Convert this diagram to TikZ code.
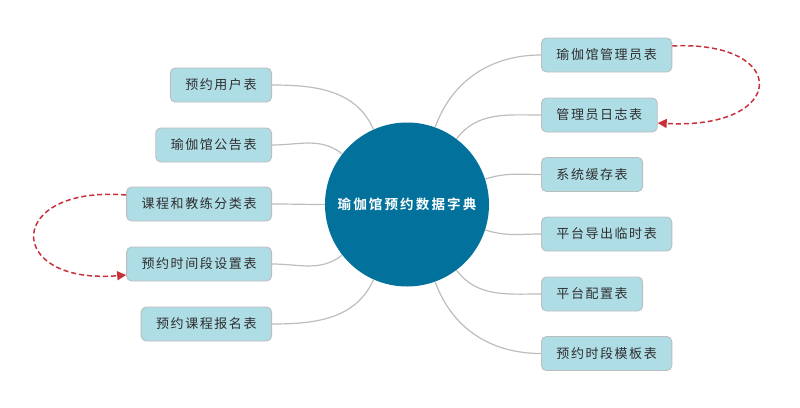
\documentclass[tikz,border=0pt]{standalone}
\usepackage{fontspec}
\usepackage{tikz}
\usetikzlibrary{arrows.meta,positioning}
\newfontfamily\tblfont[LetterSpace=12]{Noto Sans CJK SC}
\newfontfamily\hubfont[LetterSpace=16,BoldFont={Noto Sans CJK SC Bold}]{Noto Sans CJK SC}
\definecolor{yogablue}{HTML}{02729C}
\definecolor{yogacyan}{HTML}{AEDDE6}
\definecolor{yogagray}{HTML}{BDBDBD}
\definecolor{yogared}{HTML}{C8303A}
\definecolor{yogatext}{HTML}{2E2E2E}

\begin{document}
\begin{tikzpicture}[
  x=1pt, y=-1pt,
  hub/.style={circle, fill=yogablue, minimum size=164pt, inner sep=0pt, text=white, font=\hubfont\fontsize{13.5}{15}\selectfont\bfseries},
  tbl/.style={draw=yogagray, line width=0.9pt, rounded corners=5pt, fill=yogacyan, text=yogatext, minimum height=34pt, inner xsep=15pt, inner ysep=0pt, font=\tblfont\fontsize{13}{15}\selectfont},
  branch/.style={draw=yogagray, line width=1.2pt},
  link/.style={draw=yogared, line width=1.5pt, dash pattern=on 5pt off 3pt, -{Triangle[length=9pt,width=9pt]}}
]
\useasboundingbox (0,0) rectangle (800,407);
\node[hub] (dict) at (407,204.5) {瑜伽馆预约数据字典};
% left side
\node[tbl, anchor=east] (user) at (272,85) {预约用户表};
\node[tbl, anchor=east] (notice) at (272,145) {瑜伽馆公告表};
\node[tbl, anchor=east] (coach) at (272,204) {课程和教练分类表};
\node[tbl, anchor=east] (slot) at (272,264) {预约时间段设置表};
\node[tbl, anchor=east] (signup) at (272,324) {预约课程报名表};
% right side
\node[tbl, anchor=west] (admin) at (541,55) {瑜伽馆管理员表};
\node[tbl, anchor=west] (adminlog) at (541,115) {管理员日志表};
\node[tbl, anchor=west] (cache) at (541,174.5) {系统缓存表};
\node[tbl, anchor=west] (export) at (541,234) {平台导出临时表};
\node[tbl, anchor=west] (config) at (541,294) {平台配置表};
\node[tbl, anchor=west] (template) at (541,353.5) {预约时段模板表};
% branches
\draw[branch] (dict) to[out=114,in=0] (user);
\draw[branch] (dict) to[out=142,in=0] (notice);
\draw[branch] (dict) to[out=180,in=0] (coach);
\draw[branch] (dict) to[out=218,in=0] (slot);
\draw[branch] (dict) to[out=246,in=0] (signup);
\draw[branch] (dict) to[out=70,in=180] (admin);
\draw[branch] (dict) to[out=53,in=180] (adminlog);
\draw[branch] (dict) to[out=18,in=180] (cache);
\draw[branch] (dict) to[out=-18,in=180] (export);
\draw[branch] (dict) to[out=-53,in=180] (config);
\draw[branch] (dict) to[out=-70,in=180] (template);
% links between tables
\draw[link] ([yshift=9pt]coach.west) .. controls +(-122,-10) and +(-122,10) .. ([yshift=-11pt]slot.west);
\draw[link] ([yshift=9pt]admin.east) .. controls +(118,-6) and +(131,7) .. ([yshift=-8pt]adminlog.east);
\end{tikzpicture}
\end{document}
